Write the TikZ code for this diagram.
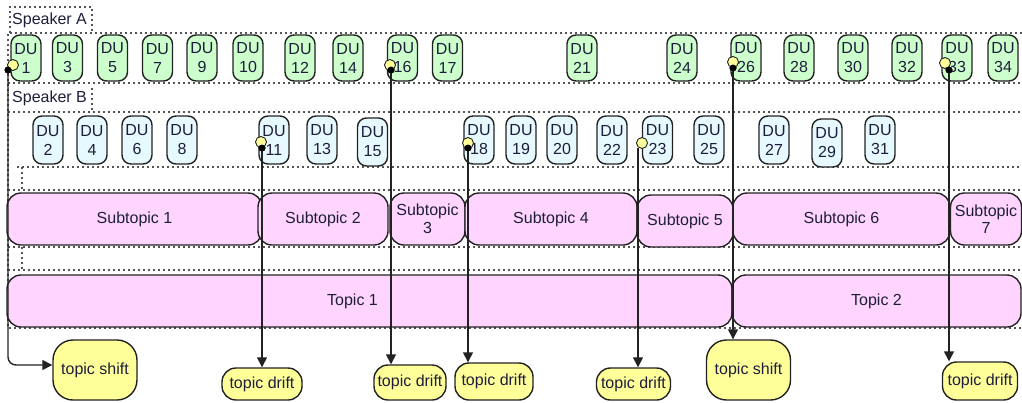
\documentclass[tikz,border=0pt]{standalone}
\usepackage{fontspec}
\setmainfont{Liberation Sans}
\usetikzlibrary{arrows.meta}
\definecolor{dugreen}{HTML}{CCFFCC}
\definecolor{dublue}{HTML}{E6F9FF}
\definecolor{tpink}{HTML}{FFD5FF}
\definecolor{tyellow}{HTML}{FFFF99}
\definecolor{edge}{HTML}{222222}
\definecolor{txt}{HTML}{1E1E3C}
\definecolor{dotc}{HTML}{555555}
\tikzset{
  base/.style={draw=edge, line width=1.4pt, text=txt, align=center, inner sep=0pt,
    font=\fontsize{16}{17.5}\selectfont},
  dua/.style={base, fill=dugreen, rounded corners=9pt, minimum width=30pt, minimum height=46pt,
    font=\fontsize{16}{19}\selectfont},
  dub/.style={base, fill=dublue, rounded corners=9pt, minimum width=30pt, minimum height=48pt,
    font=\fontsize{16}{19}\selectfont},
  topicbox/.style={base, fill=tpink, rounded corners=14pt, minimum height=52pt},
  shiftbox/.style={base, fill=tyellow, rounded corners=20pt, minimum width=84pt, minimum height=60pt},
  driftbox/.style={base, fill=tyellow, rounded corners=14pt},
  lbl/.style={text=txt, inner sep=0pt, font=\fontsize{16}{17.5}\selectfont},
  dotline/.style={draw=dotc, line width=1.5pt, dash pattern=on 1.6pt off 3.4pt},
  ydot/.style={circle, draw=edge, line width=0.9pt, fill=tyellow, minimum size=11pt, inner sep=0pt},
  bdot/.style={circle, fill=black, minimum size=7pt, inner sep=0pt},
  conn/.style={draw=edge, line width=1.4pt, -{Triangle[length=10pt,width=10pt]}},
}
\begin{document}
\begin{tikzpicture}[x=1pt,y=-1pt]
\useasboundingbox (0,0) rectangle (1022,402);
% dotted containers
\draw[dotline] (10,33) -- (10,7) -- (92,7) -- (92,33);
\draw[dotline] (1022,33) -- (8,33) -- (8,328) -- (1022,328);
\draw[dotline] (8,83) -- (1022,83);
\draw[dotline] (92,88) -- (92,112);
\draw[dotline] (8,112) -- (1022,112);
\draw[dotline] (17,167) -- (1022,167);
\draw[dotline] (22,167) -- (22,190);
\draw[dotline] (8,190) -- (1022,190);
\draw[dotline] (8,247) -- (1022,247);
\draw[dotline] (22,247) -- (22,270);
\draw[dotline] (8,270) -- (1022,270);
\node[lbl, anchor=west] (spa) at (12,20) {Speaker A};
\node[lbl, anchor=west] (spb) at (12,98) {Speaker B};
% speaker A
\node[dua] (du1) at (26,58) {DU\\1};
\node[dua] (du3) at (67.5,58) {DU\\3};
\node[dua] (du5) at (112.5,58) {DU\\5};
\node[dua] (du7) at (157.5,58) {DU\\7};
\node[dua] (du9) at (202,58) {DU\\9};
\node[dua] (du10) at (248,58) {DU\\10};
\node[dua] (du12) at (300,58) {DU\\12};
\node[dua] (du14) at (348,58) {DU\\14};
\node[dua] (du16) at (402.5,58) {DU\\16};
\node[dua] (du17) at (447.5,58) {DU\\17};
\node[dua] (du21) at (582,58) {DU\\21};
\node[dua] (du24) at (682,58) {DU\\24};
\node[dua] (du26) at (746,58) {DU\\26};
\node[dua] (du28) at (799,58) {DU\\28};
\node[dua] (du30) at (853,58) {DU\\30};
\node[dua] (du32) at (907,58) {DU\\32};
\node[dua] (du33) at (957,58) {DU\\33};
\node[dua] (du34) at (1003,58) {DU\\34};
% speaker B
\node[dub] (du2) at (48,140) {DU\\2};
\node[dub] (du4) at (92,140) {DU\\4};
\node[dub] (du6) at (137,140) {DU\\6};
\node[dub] (du8) at (182,140) {DU\\8};
\node[dub] (du11) at (274,140) {DU\\11};
\node[dub] (du13) at (322,140) {DU\\13};
\node[dub] (du15) at (372.5,142) {DU\\15};
\node[dub] (du18) at (479,140) {DU\\18};
\node[dub] (du19) at (521,140) {DU\\19};
\node[dub] (du20) at (562,140) {DU\\20};
\node[dub] (du22) at (612,140) {DU\\22};
\node[dub] (du23) at (657.5,140) {DU\\23};
\node[dub] (du25) at (709,140) {DU\\25};
\node[dub] (du27) at (774,140) {DU\\27};
\node[dub] (du29) at (827,143) {DU\\29};
\node[dub] (du31) at (880,140) {DU\\31};
% subtopics
\node[topicbox, minimum width=255pt] (st1) at (134.5,219) {Subtopic 1};
\node[topicbox, minimum width=130pt] (st2) at (323,219) {Subtopic 2};
\node[topicbox, minimum width=75pt] (st3) at (427.5,219) {Subtopic\\3};
\node[topicbox, minimum width=172pt] (st4) at (551,219) {Subtopic 4};
\node[topicbox, minimum width=96pt] (st5) at (685,221) {Subtopic 5};
\node[topicbox, minimum width=217pt] (st6) at (841.5,219) {Subtopic 6};
\node[topicbox, minimum width=71pt] (st7) at (986,219) {Subtopic\\7};
% topics
\node[topicbox, minimum width=725pt, label={[lbl, xshift=-17pt]center:Topic 1}] (tp1) at (369.5,301) {};
\node[topicbox, minimum width=289pt] (tp2) at (876.5,301) {Topic 2};
% shift / drift
\node[shiftbox] (ts1) at (95,370) {topic shift};
\node[shiftbox] (ts2) at (748.5,370) {topic shift};
\node[driftbox, minimum width=80pt, minimum height=32pt] (td1) at (262,384) {topic drift};
\node[driftbox, minimum width=72pt, minimum height=35pt] (td2) at (410,382.5) {topic drift};
\node[driftbox, minimum width=78pt, minimum height=37pt] (td3) at (494,381.5) {topic drift};
\node[driftbox, minimum width=74pt, minimum height=32pt] (td4) at (633.5,384) {topic drift};
\node[driftbox, minimum width=75pt, minimum height=38pt] (td5) at (980,381) {topic drift};
% markers
\node[bdot] (b1) at (8,70) {};
\node[bdot] (b16) at (391,70) {};
\node[bdot] (b26) at (733,68) {};
\node[bdot] (b33) at (949,70) {};
\node[bdot] (b11) at (262,148) {};
\node[bdot] (b18) at (468,148) {};
\coordinate (b23) at (638,148);
% connectors
\draw[conn, rounded corners=8pt] (b1.center) |- ([yshift=5pt]ts1.west);
\draw[conn] (b11.center) -- (b11.center |- td1.north);
\draw[conn] (b16.center) -- (b16.center |- td2.north);
\draw[conn] (b18.center) -- (b18.center |- td3.north);
\draw[conn] (b23) -- (b23 |- td4.north);
\draw[conn] (b26.center) -- (b26.center |- ts2.north);
\draw[conn] (b33.center) -- (b33.center |- td5.north);
% redraw dots on top
\node[ydot] (y1) at (13,65) {};
\node[bdot] at (b1) {};
\node[ydot] (y16) at (390,65) {};
\node[bdot] at (b16) {};
\node[ydot] (y26) at (733,62) {};
\node[bdot] at (b26) {};
\node[ydot] (y33) at (945,63) {};
\node[bdot] at (b33) {};
\node[ydot] (y11) at (261,142) {};
\node[bdot] at (b11) {};
\node[ydot] (y18) at (468,143) {};
\node[bdot] at (b18) {};
\node[ydot] (y23) at (642,143) {};
\end{tikzpicture}
\end{document}
